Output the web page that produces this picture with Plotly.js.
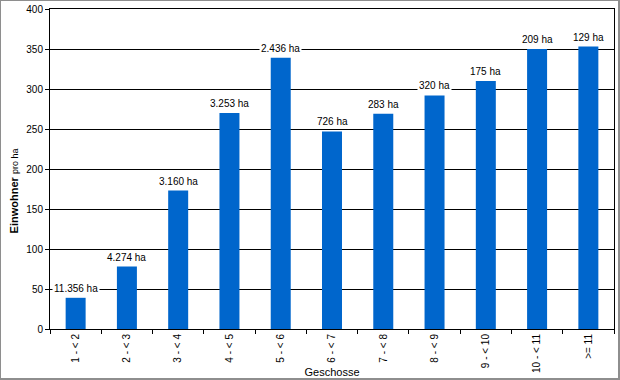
<!DOCTYPE html>
<html>
<head>
<meta charset="utf-8">
<script src="https://cdn.plot.ly/plotly-3.0.1.min.js"></script>
<style>
  html, body { margin: 0; padding: 0; background: #fff; }
  #frame { width: 620px; height: 380px; box-sizing: border-box; border: 1px solid #8e8e8e; border-right-width: 2px; border-bottom-width: 2px; }
  #chart { width: 617px; height: 377px; }
</style>
</head>
<body>
<div id="frame"><div id="chart"></div></div>
<script>
const categories = ["1 - < 2", "2 - < 3", "3 - < 4", "4 - < 5", "5 - < 6", "6 - < 7", "7 - < 8", "8 - < 9", "9 - < 10", "10 - < 11", ">= 11"];
const einwohnerProHa = [39, 78, 173, 270, 339, 247, 269, 292, 310, 350, 353];
const flaecheLabels = ["11.356 ha", "4.274 ha", "3.160 ha", "3.253 ha", "2.436 ha", "726 ha", "283 ha", "320 ha", "175 ha", "209 ha", "129 ha"];
const yTicks = [0, 50, 100, 150, 200, 250, 300, 350, 400];

const font = "Arial, 'Liberation Sans', sans-serif";

const trace = {
  type: "bar",
  x: categories,
  y: einwohnerProHa,
  marker: { color: "#0066CC" },
  hoverinfo: "x+y"
};

const labelAnnotations = categories.map((c, i) => ({
  x: c, y: einwohnerProHa[i], xref: "x", yref: "y",
  text: flaecheLabels[i],
  showarrow: false,
  yanchor: "bottom",
  yshift: 2,
  bgcolor: "#ffffff",
  borderpad: 1,
  font: { family: font, size: 10, color: "#000" }
}));

const layout = {
  width: 617, height: 377,
  margin: { l: 49, r: 4, t: 8, b: 49 },
  paper_bgcolor: "#fff",
  plot_bgcolor: "#fff",
  showlegend: false,
  bargap: 0.61,
  font: { family: font, size: 10, color: "#000" },
  xaxis: {
    type: "category",
    tickangle: -90,
    tickson: "boundaries",
    ticks: "outside", ticklen: 4, tickcolor: "#000",
    showline: true, linecolor: "#000", linewidth: 1, mirror: true,
    showgrid: false,
    tickfont: { family: font, size: 10, color: "#000" },
    title: { text: "Geschosse", font: { family: font, size: 11, color: "#000" }, standoff: 2 }
  },
  yaxis: {
    range: [0, 400],
    tickvals: yTicks,
    ticktext: yTicks.map(String),
    ticks: "outside", ticklen: 4, tickcolor: "#000",
    showline: true, linecolor: "#000", linewidth: 1, mirror: true,
    showgrid: true, gridcolor: "#000", gridwidth: 1,
    zeroline: false,
    tickfont: { family: font, size: 10, color: "#000" }
  },
  annotations: labelAnnotations.concat([{
    xref: "paper", yref: "paper",
    x: 0, y: 0.43,
    xanchor: "center", yanchor: "middle",
    xshift: -36,
    textangle: -90,
    showarrow: false,
    text: "<b>Einwohner</b> <span style='font-size:9px'>pro ha</span>",
    font: { family: font, size: 11, color: "#000" }
  }])
};

Plotly.newPlot("chart", [trace], layout, { staticPlot: true, displayModeBar: false });
</script>
</body>
</html>
